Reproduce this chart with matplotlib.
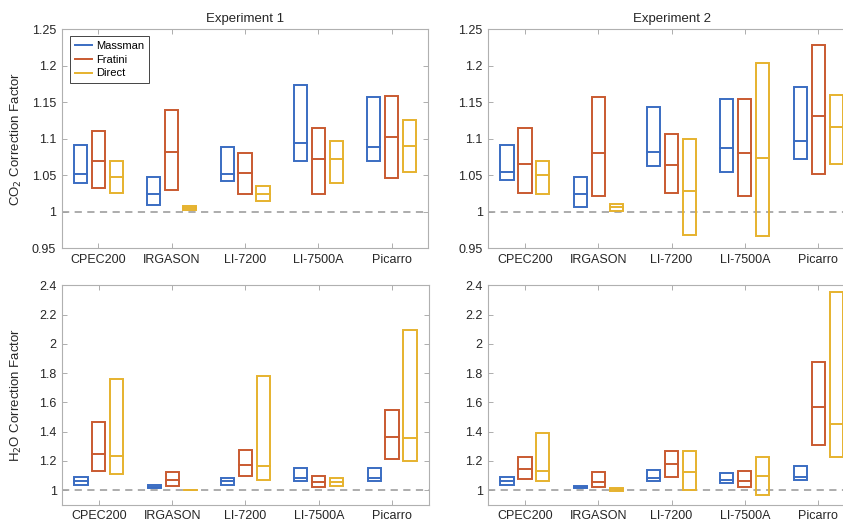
import numpy as np
import matplotlib
matplotlib.use('Agg')
import matplotlib.pyplot as plt
from matplotlib.patches import Rectangle
from matplotlib.lines import Line2D
from matplotlib.ticker import FormatStrFormatter

plt.rcParams['font.family'] = ['Liberation Sans', 'DejaVu Sans']

instruments = ['CPEC200', 'IRGASON', 'LI-7200', 'LI-7500A', 'Picarro']
methods = ['Massman', 'Fratini', 'Direct']
colors = ['#3a6cc2', '#c95a30', '#e6b22e']

# (low, median, high) per instrument
co2_e1_massman = [(1.040, 1.052, 1.091), (1.009, 1.024, 1.048), (1.042, 1.052, 1.088), (1.070, 1.094, 1.174), (1.070, 1.089, 1.157)]
co2_e1_fratini = [(1.032, 1.069, 1.111), (1.030, 1.082, 1.139), (1.025, 1.053, 1.080), (1.024, 1.072, 1.114), (1.046, 1.103, 1.159)]
co2_e1_direct = [(1.026, 1.048, 1.070), (1.002, 1.005, 1.008), (1.015, 1.025, 1.035), (1.040, 1.072, 1.097), (1.055, 1.090, 1.126)]

co2_e2_massman = [(1.043, 1.055, 1.091), (1.006, 1.025, 1.048), (1.062, 1.082, 1.143), (1.054, 1.087, 1.155), (1.072, 1.097, 1.171)]
co2_e2_fratini = [(1.026, 1.066, 1.114), (1.022, 1.081, 1.157), (1.026, 1.064, 1.106), (1.021, 1.080, 1.154), (1.052, 1.131, 1.228)]
co2_e2_direct = [(1.025, 1.050, 1.070), (1.001, 1.006, 1.011), (0.968, 1.028, 1.100), (0.967, 1.073, 1.204), (1.066, 1.116, 1.160)]

h2o_e1_massman = [(1.035, 1.060, 1.087), (1.012, 1.022, 1.032), (1.038, 1.060, 1.082), (1.060, 1.083, 1.154), (1.062, 1.083, 1.154)]
h2o_e1_fratini = [(1.129, 1.246, 1.463), (1.025, 1.067, 1.122), (1.097, 1.175, 1.272), (1.018, 1.055, 1.097), (1.214, 1.366, 1.548)]
h2o_e1_direct = [(1.113, 1.230, 1.762), (0.998, 1.001, 1.004), (1.071, 1.168, 1.783), (1.028, 1.055, 1.081), (1.198, 1.359, 2.096)]

h2o_e2_massman = [(1.037, 1.062, 1.088), (1.012, 1.020, 1.030), (1.060, 1.081, 1.138), (1.048, 1.069, 1.120), (1.067, 1.088, 1.166)]
h2o_e2_fratini = [(1.074, 1.143, 1.226), (1.021, 1.058, 1.127), (1.088, 1.177, 1.267), (1.023, 1.062, 1.134), (1.306, 1.566, 1.875)]
h2o_e2_direct = [(1.060, 1.129, 1.394), (0.996, 1.005, 1.016), (1.000, 1.127, 1.270), (0.968, 1.097, 1.228), (1.226, 1.454, 2.354)]

panels = [
    ([co2_e1_massman, co2_e1_fratini, co2_e1_direct], 'Experiment 1', (0.95, 1.25), np.arange(0.95, 1.2501, 0.05)),
    ([co2_e2_massman, co2_e2_fratini, co2_e2_direct], 'Experiment 2', (0.95, 1.25), np.arange(0.95, 1.2501, 0.05)),
    ([h2o_e1_massman, h2o_e1_fratini, h2o_e1_direct], None, (0.9, 2.4), np.arange(1.0, 2.401, 0.2)),
    ([h2o_e2_massman, h2o_e2_fratini, h2o_e2_direct], None, (0.9, 2.4), np.arange(1.0, 2.401, 0.2)),
]

fig = plt.figure(figsize=(8.43, 5.27), dpi=100)
w, h = 0.4348, 0.4160
positions = [(0.0733, 0.5288), (0.5792, 0.5288), (0.0738, 0.0423), (0.5792, 0.0423)]

offsets = [-0.245, 0.0, 0.245]
box_w = 0.18
x = np.arange(1, len(instruments) + 1)

axes = []
for (series, title, ylim, yticks), (l, b) in zip(panels, positions):
    ax = fig.add_axes([l, b, w, h])
    axes.append(ax)
    ax.axhline(1.0, color='#a6a6a6', lw=1.3, ls=(0, (4, 3)), zorder=1)
    for k, vals in enumerate(series):
        for i, (lo, med, hi) in enumerate(vals):
            xc = x[i] + offsets[k]
            ax.add_patch(Rectangle((xc - box_w / 2, lo), box_w, hi - lo,
                                   fill=False, edgecolor=colors[k], lw=1.4, zorder=3))
            ax.plot([xc - box_w / 2, xc + box_w / 2], [med, med], color=colors[k], lw=1.4, zorder=3)
    ax.set_xlim(0.5, 5.5)
    ax.set_ylim(*ylim)
    ax.set_yticks(yticks)
    ax.yaxis.set_major_formatter(FormatStrFormatter('%g'))
    ax.set_xticks(x)
    ax.set_xticklabels(instruments)
    ax.tick_params(direction='in', length=3.5, width=0.6, top=True, right=True,
                   labelsize=9, colors='#a0a0a0', labelcolor='#262626', pad=4)
    for s in ax.spines.values():
        s.set_color('#b0b0b0')
        s.set_linewidth(0.8)
    if title:
        ax.set_title(title, fontsize=9.5, color='#262626', pad=5)

axes[0].set_ylabel('CO$_2$ Correction Factor', fontsize=9.5, color='#262626')
axes[2].set_ylabel('H$_2$O Correction Factor', fontsize=9.5, color='#262626')
axes[0].yaxis.set_label_coords(-0.102, 0.5)
axes[2].yaxis.set_label_coords(-0.104, 0.5)

handles = [Line2D([0], [0], color=c, lw=1.4) for c in colors]
leg = axes[0].legend(handles, methods, loc='upper left', bbox_to_anchor=(0.023, 0.97),
                     borderaxespad=0, fontsize=8, handlelength=1.5, handletextpad=0.4,
                     labelspacing=0.35, fancybox=False, framealpha=1, borderpad=0.45)
leg.get_frame().set_edgecolor('#444444')
leg.get_frame().set_linewidth(0.7)

fig.savefig('out.png', dpi=100)
